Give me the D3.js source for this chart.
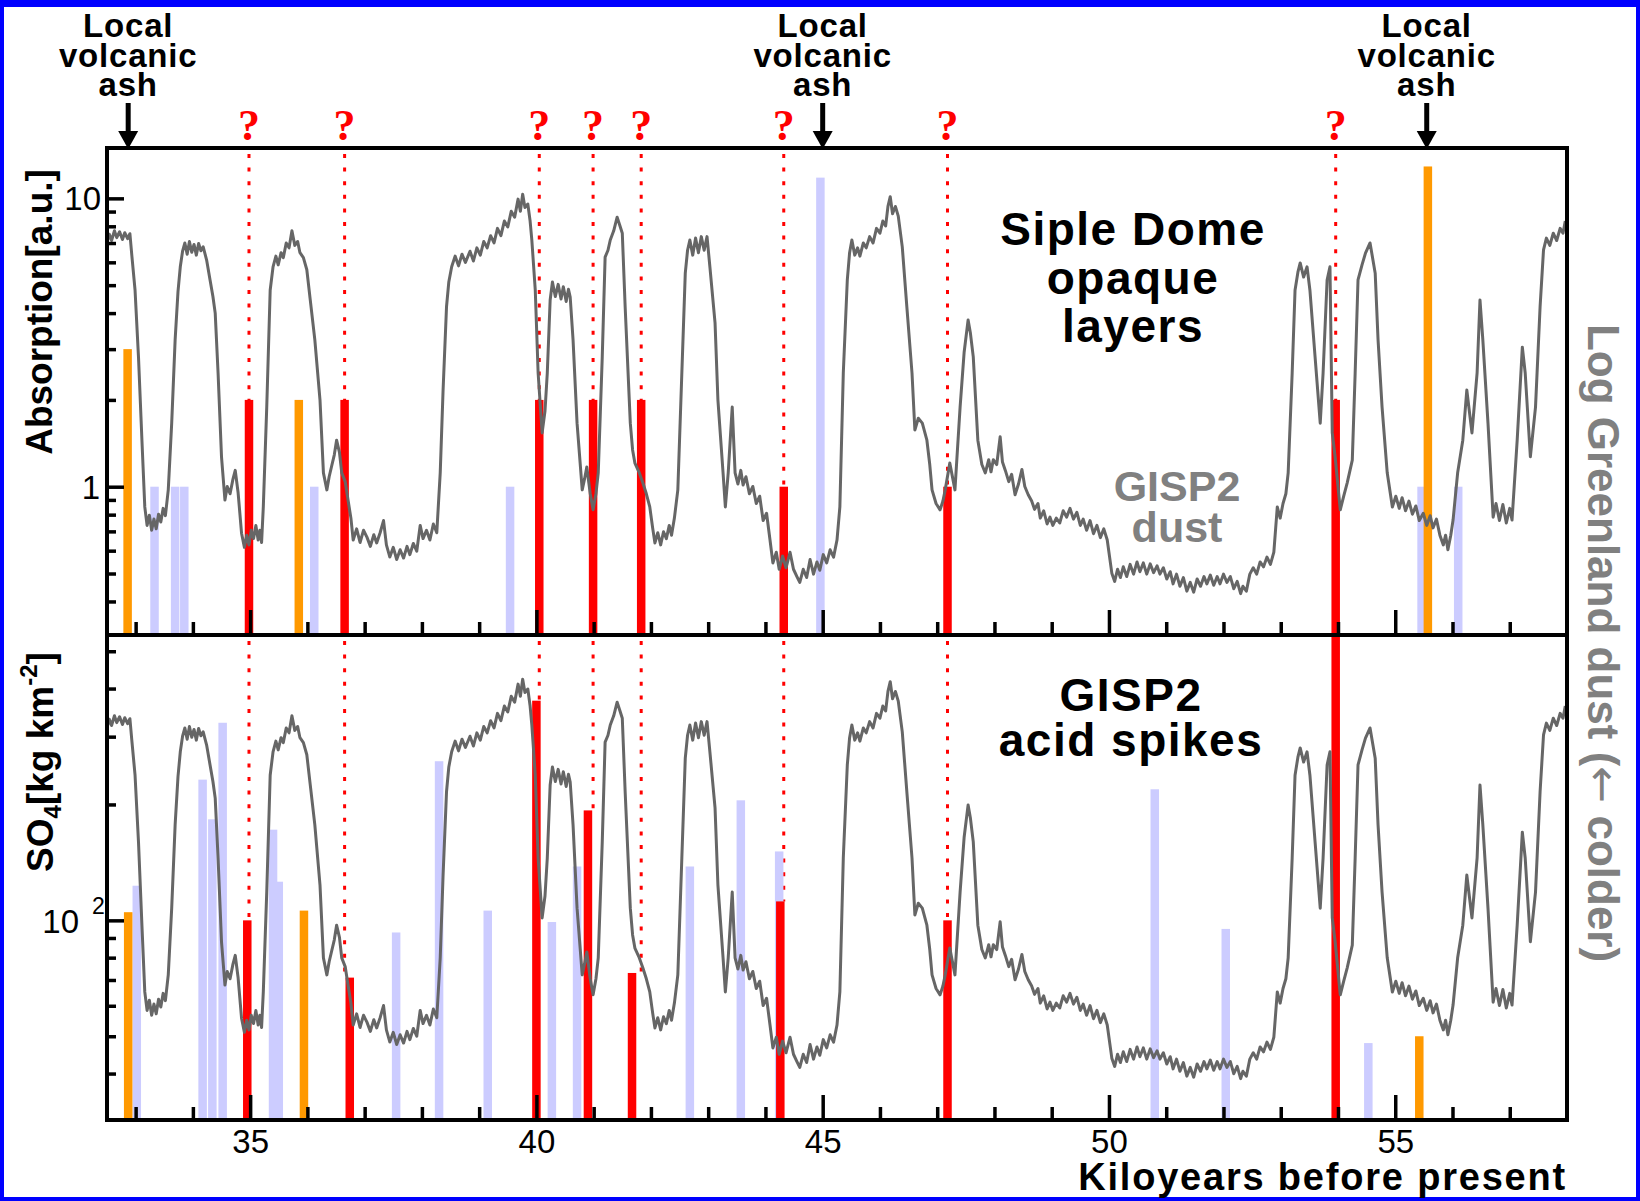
<!DOCTYPE html>
<html>
<head>
<meta charset="utf-8">
<script src="https://cdn.jsdelivr.net/npm/d3@7"></script>
<style>
  body { margin: 0; background: #fff; }
  svg { display: block; }
  text { font-family: "Liberation Sans", Arial, sans-serif; }
</style>
</head>
<body>
<script>
// GISP2 dust record (kyr BP, relative log dust index 0-100)
var dust = [[32.50,80.5],[32.54,82.3],[32.58,81.0],[32.63,83.0],[32.67,81.6],[32.72,82.8],[32.77,81.2],[32.81,82.6],[32.86,81.4],[32.90,82.4],[32.93,78.4],[32.99,70.8],[33.05,57.1],[33.11,40.0],[33.16,26.3],[33.20,22.5],[33.24,24.6],[33.28,21.5],[33.32,23.8],[33.36,21.8],[33.40,24.8],[33.44,23.2],[33.48,26.0],[33.52,24.5],[33.57,29.8],[33.63,43.5],[33.69,60.6],[33.74,70.5],[33.78,75.6],[33.82,78.8],[33.86,80.5],[33.90,78.2],[33.94,80.8],[33.98,78.6],[34.02,80.2],[34.06,78.0],[34.10,80.4],[34.14,78.9],[34.18,79.7],[34.24,77.0],[34.30,72.9],[34.35,69.5],[34.39,66.1],[34.44,53.8],[34.50,36.6],[34.56,27.7],[34.60,30.5],[34.65,29.0],[34.70,32.0],[34.74,33.8],[34.79,29.2],[34.85,20.9],[34.90,18.0],[34.94,20.5],[34.98,18.5],[35.02,21.5],[35.06,19.8],[35.10,22.5],[35.14,19.5],[35.17,21.5],[35.20,19.0],[35.23,26.3],[35.29,46.8],[35.35,70.8],[35.40,75.6],[35.45,77.8],[35.49,76.0],[35.54,78.5],[35.58,77.5],[35.63,80.5],[35.68,79.5],[35.73,83.0],[35.78,80.0],[35.83,80.8],[35.87,78.5],[35.93,77.5],[35.99,75.0],[36.05,68.8],[36.13,60.6],[36.22,48.3],[36.28,33.3],[36.34,29.8],[36.38,32.5],[36.42,34.5],[36.47,37.0],[36.51,40.0],[36.56,37.5],[36.60,33.3],[36.66,31.5],[36.71,27.7],[36.76,24.0],[36.80,19.5],[36.86,21.8],[36.92,19.0],[36.98,21.5],[37.04,20.1],[37.10,18.2],[37.16,20.6],[37.21,18.9],[37.27,21.0],[37.33,23.5],[37.38,18.5],[37.44,16.0],[37.50,18.0],[37.56,15.5],[37.62,17.5],[37.68,15.8],[37.74,18.2],[37.79,16.5],[37.85,18.8],[37.91,17.2],[37.97,22.5],[38.02,19.8],[38.08,21.5],[38.14,19.5],[38.20,22.8],[38.26,21.0],[38.32,33.3],[38.37,50.3],[38.43,67.4],[38.47,72.5],[38.52,75.6],[38.58,77.8],[38.64,75.8],[38.70,78.2],[38.76,76.5],[38.84,78.8],[38.90,76.8],[38.96,79.5],[39.02,78.0],[39.08,80.8],[39.14,79.5],[39.20,82.0],[39.26,80.5],[39.32,83.5],[39.38,82.0],[39.44,85.0],[39.50,83.8],[39.56,87.0],[39.62,85.8],[39.68,89.5],[39.72,87.0],[39.76,90.5],[39.80,87.8],[39.85,88.5],[39.89,85.0],[39.92,81.1],[39.98,70.8],[40.03,53.8],[40.10,41.5],[40.15,46.0],[40.19,53.8],[40.24,68.8],[40.28,72.5],[40.33,69.5],[40.38,72.0],[40.43,69.0],[40.47,71.5],[40.52,68.5],[40.56,71.0],[40.59,69.4],[40.64,60.6],[40.71,43.5],[40.80,29.8],[40.84,32.0],[40.88,34.5],[40.94,29.0],[40.99,25.7],[41.04,29.0],[41.08,33.3],[41.15,57.1],[41.20,77.6],[41.25,79.0],[41.29,81.1],[41.35,83.0],[41.41,85.8],[41.46,84.0],[41.50,82.5],[41.55,67.4],[41.64,43.5],[41.68,38.0],[41.72,35.3],[41.79,33.5],[41.86,31.2],[41.92,29.0],[41.98,26.3],[42.03,22.0],[42.07,18.9],[42.12,21.0],[42.17,18.5],[42.22,21.2],[42.27,19.8],[42.32,22.5],[42.36,20.5],[42.41,24.0],[42.47,29.8],[42.54,53.8],[42.60,74.3],[42.64,79.0],[42.68,81.1],[42.73,78.0],[42.78,81.5],[42.83,78.5],[42.88,81.8],[42.93,79.0],[42.98,81.8],[43.03,75.6],[43.12,64.1],[43.17,48.3],[43.26,33.3],[43.30,26.3],[43.35,33.3],[43.42,46.8],[43.47,33.3],[43.52,31.0],[43.57,33.8],[43.61,30.8],[43.66,32.5],[43.72,29.0],[43.78,30.5],[43.84,27.0],[43.90,28.5],[43.96,23.5],[44.02,25.0],[44.08,19.5],[44.13,14.8],[44.19,17.0],[44.24,13.5],[44.30,16.2],[44.36,13.8],[44.43,17.0],[44.49,13.5],[44.55,12.0],[44.60,10.8],[44.66,13.5],[44.72,11.8],[44.78,15.5],[44.84,12.5],[44.90,15.0],[44.95,13.3],[45.01,16.5],[45.07,14.8],[45.13,17.5],[45.19,16.0],[45.25,19.5],[45.30,26.3],[45.36,53.8],[45.43,72.9],[45.47,78.5],[45.51,81.1],[45.56,78.0],[45.61,79.5],[45.65,77.8],[45.71,80.5],[45.76,79.5],[45.82,81.8],[45.88,80.5],[45.94,83.5],[46.00,82.5],[46.05,85.0],[46.10,84.0],[46.14,88.0],[46.18,90.0],[46.22,86.5],[46.27,88.0],[46.32,86.0],[46.39,79.7],[46.47,67.4],[46.56,53.8],[46.61,42.1],[46.67,44.5],[46.74,43.5],[46.82,40.0],[46.87,35.0],[46.91,29.8],[46.98,27.0],[47.05,25.7],[47.10,27.5],[47.14,29.8],[47.22,35.3],[47.31,29.8],[47.40,46.8],[47.47,58.0],[47.54,64.7],[47.58,62.0],[47.63,57.1],[47.71,40.0],[47.78,35.0],[47.84,33.3],[47.90,36.0],[47.94,33.5],[47.98,36.0],[48.04,35.0],[48.10,40.7],[48.14,35.5],[48.19,33.8],[48.25,31.5],[48.30,33.0],[48.36,28.8],[48.42,31.0],[48.48,34.0],[48.53,30.5],[48.59,28.8],[48.65,27.5],[48.70,25.8],[48.76,27.0],[48.80,24.0],[48.86,25.5],[48.92,22.8],[48.97,24.2],[49.02,22.5],[49.08,24.0],[49.14,23.0],[49.20,25.5],[49.26,24.2],[49.32,26.0],[49.38,23.8],[49.44,25.2],[49.50,22.5],[49.55,23.8],[49.61,21.5],[49.67,23.5],[49.73,20.8],[49.79,22.5],[49.85,20.0],[49.91,21.8],[49.97,19.5],[50.05,12.7],[50.10,11.0],[50.15,13.5],[50.20,11.8],[50.25,14.0],[50.31,12.0],[50.37,14.5],[50.43,12.5],[50.49,15.0],[50.54,13.0],[50.60,14.8],[50.66,12.5],[50.72,14.6],[50.78,12.8],[50.84,14.2],[50.89,12.5],[50.95,13.8],[51.01,11.5],[51.07,13.0],[51.12,10.5],[51.18,12.5],[51.24,10.0],[51.30,11.8],[51.36,9.0],[51.42,10.8],[51.48,8.8],[51.54,11.5],[51.60,10.0],[51.66,12.0],[51.71,10.5],[51.77,12.3],[51.83,10.2],[51.89,12.0],[51.94,10.5],[52.00,12.5],[52.06,10.8],[52.12,12.0],[52.18,9.5],[52.24,11.0],[52.30,8.5],[52.34,10.0],[52.40,9.0],[52.46,12.5],[52.52,13.8],[52.58,12.5],[52.64,15.0],[52.70,14.0],[52.76,16.0],[52.82,14.5],[52.88,17.0],[52.94,26.3],[52.99,24.0],[53.04,27.0],[53.09,29.0],[53.13,33.3],[53.20,53.8],[53.25,70.8],[53.30,74.5],[53.34,76.4],[53.40,73.5],[53.46,75.6],[53.51,70.8],[53.60,57.1],[53.69,43.5],[53.74,53.8],[53.81,72.9],[53.86,75.6],[53.90,41.5],[53.95,36.6],[54.04,25.7],[54.10,28.5],[54.16,31.2],[54.25,35.9],[54.30,53.8],[54.35,72.9],[54.42,76.0],[54.48,78.4],[54.56,80.5],[54.65,74.3],[54.70,60.6],[54.77,46.8],[54.86,33.3],[54.95,26.3],[55.01,28.5],[55.07,26.0],[55.12,28.2],[55.18,25.5],[55.24,27.5],[55.30,24.8],[55.36,26.5],[55.42,23.5],[55.49,25.0],[55.55,22.5],[55.61,24.5],[55.66,22.0],[55.72,23.8],[55.78,20.5],[55.84,18.5],[55.88,20.5],[55.92,17.5],[55.97,20.5],[56.01,23.6],[56.09,33.3],[56.18,40.0],[56.25,50.3],[56.34,41.5],[56.43,53.8],[56.48,68.8],[56.53,60.6],[56.62,43.5],[56.71,24.2],[56.76,27.0],[56.82,23.5],[56.88,26.8],[56.94,23.0],[57.00,26.0],[57.04,23.6],[57.13,40.0],[57.22,59.1],[57.27,53.8],[57.36,36.6],[57.45,46.8],[57.53,67.4],[57.59,79.1],[57.64,81.5],[57.70,80.0],[57.76,82.5],[57.82,81.0],[57.88,83.5],[57.93,82.5],[57.97,85.0]];

// Siple Dome opaque layers, absorption [a.u.]
var opaqueAsh   = [[32.86,3.0],[35.85,2.0],[55.57,12.9]];
var opaqueMatch = [[34.98,2],[36.65,2],[40.05,2],[40.99,2],[41.83,2],[44.32,1],[47.18,1],[53.96,2]];
var opaqueOther = [[33.33,1],[33.69,1],[33.85,1],[36.12,1],[39.54,1],[44.96,11.8],[55.46,1],[56.10,1]];

// GISP2 acid spikes, SO4 [kg km-2]
var acidAsh   = [[32.87,105],[35.94,106],[55.42,50]];
var acidMatch = [[34.95,100],[36.74,71],[40.00,372],[40.90,193],[41.67,73],[44.26,112],[47.18,100],[53.96,560]];
var acidOther = [[33.02,123],[34.17,232],[34.34,183],[34.52,326],[35.40,172],[35.50,126],[37.55,93],[38.30,259],[39.15,106],[40.27,99],[40.71,138],[42.68,138],[43.57,205],[44.24,151],[50.80,219],[52.04,95],[54.53,48]];

// matched events (question marks) and local ash arrows
var eventKyr = [34.98, 36.65, 40.05, 40.99, 41.83, 44.32, 47.18, 53.96];
var ashKyr = [32.87, 45.0, 55.55];

var xMajor = [35, 40, 45, 50, 55];
var xMinor = [33,34,36,37,38,39,41,42,43,44,46,47,48,49,51,52,53,54,56,57];

var W = 1640, H = 1201;
var xL = 107, xR = 1567, yT = 148, yM = 635, yB = 1120;
var barW = 8.5;

var svg = d3.select('body').append('svg').attr('width', W).attr('height', H);

// blue page border
svg.append('rect').attr('width', W).attr('height', H).attr('fill', '#0000ff');
svg.append('rect').attr('x', 4).attr('y', 7).attr('width', W - 8).attr('height', H - 11).attr('fill', '#fff');

var x = d3.scaleLinear().domain([32.5, 58]).range([xL, xR]);
var yAbs = d3.scaleLog().domain([0.306, 14.95]).range([yM, yT]).clamp(true);
var ySO4 = d3.scaleLog().domain([30.3, 551]).range([yB, yM]).clamp(true);
var yDustTop = d3.scaleLinear().domain([0, 100]).range([yM, yT]);
var yDustBot = d3.scaleLinear().domain([0, 100]).range([yB, yM - 2]);

function nearest(list, k) {
  var best = null;
  list.forEach(function (d) {
    if (Math.abs(d[0] - k) < 0.3 && (!best || Math.abs(d[0] - k) < Math.abs(best[0] - k))) best = d;
  });
  return best;
}

// dotted event lines, ending on the matched red bar
var dots = svg.append('g').attr('stroke', '#ff0000').attr('stroke-width', 3).attr('stroke-dasharray', '4 9.6');
eventKyr.forEach(function (k) {
  var a = nearest(opaqueMatch, k), b = nearest(acidMatch, k);
  dots.append('line').attr('x1', x(k)).attr('x2', x(k)).attr('y1', yT + 6).attr('y2', yAbs(a[1]));
  if (ySO4(b[1]) > yM + 6)
    dots.append('line').attr('x1', x(k)).attr('x2', x(k)).attr('y1', yM + 6).attr('y2', ySO4(b[1]));
});

function bars(data, y, base, color) {
  svg.append('g').selectAll('rect').data(data).enter().append('rect')
    .attr('x', function (d) { return x(d[0]) - barW / 2; })
    .attr('width', barW)
    .attr('y', function (d) { return y(d[1]); })
    .attr('height', function (d) { return base - y(d[1]); })
    .attr('fill', color);
}
bars(opaqueOther, yAbs, yM, '#ccccff');
bars(opaqueAsh, yAbs, yM, '#ff9900');
bars(opaqueMatch, yAbs, yM, '#ff0000');
bars(acidOther, ySO4, yB, '#ccccff');
bars(acidAsh, ySO4, yB, '#ff9900');
bars(acidMatch, ySO4, yB, '#ff0000');

// dust curve in both panels
[yDustTop, yDustBot].forEach(function (yd) {
  svg.append('path').datum(dust)
    .attr('d', d3.line().x(function (d) { return x(d[0]); }).y(function (d) { return yd(d[1]); }))
    .attr('fill', 'none').attr('stroke', '#666').attr('stroke-width', 3).attr('stroke-linejoin', 'round');
});

// frames
svg.append('rect').attr('x', xL).attr('y', yT).attr('width', xR - xL).attr('height', yB - yT)
  .attr('fill', 'none').attr('stroke', '#000').attr('stroke-width', 4);
svg.append('line').attr('x1', xL).attr('x2', xR).attr('y1', yM).attr('y2', yM)
  .attr('stroke', '#000').attr('stroke-width', 4);

function styleTicks(g) {
  g.select('.domain').remove();
  g.selectAll('line').attr('stroke', '#000').attr('stroke-width', 3.5);
}

// x ticks (inside, pointing up)
[yM, yB].forEach(function (yy) {
  svg.append('g').attr('transform', 'translate(0,' + yy + ')')
    .call(d3.axisTop(x).tickValues(xMinor).tickSize(13).tickFormat('')).call(styleTicks);
  svg.append('g').attr('transform', 'translate(0,' + yy + ')')
    .call(d3.axisTop(x).tickValues(xMajor).tickSize(25).tickFormat('')).call(styleTicks);
});

// y ticks (inside, pointing right)
function yTicks(scale) {
  var vals = scale.ticks();
  var major = vals.filter(function (v) { return Math.abs(Math.log10(v) - Math.round(Math.log10(v))) < 1e-6; });
  var minor = vals.filter(function (v) { return major.indexOf(v) < 0; });
  svg.append('g').attr('transform', 'translate(' + xL + ',0)')
    .call(d3.axisRight(scale).tickValues(minor).tickSize(9).tickFormat('')).call(styleTicks);
  svg.append('g').attr('transform', 'translate(' + xL + ',0)')
    .call(d3.axisRight(scale).tickValues(major).tickSize(17).tickFormat('')).call(styleTicks);
}
yTicks(yAbs);
yTicks(ySO4);

// x tick labels
svg.append('g').attr('transform', 'translate(0,' + yB + ')')
  .call(d3.axisBottom(x).tickValues(xMajor).tickSize(0).tickPadding(10))
  .call(function (g) {
    g.select('.domain').remove();
    g.selectAll('text').attr('font-size', 33).attr('fill', '#000')
      .style('font-family', '"Liberation Sans", Arial, sans-serif');
  });

// y tick labels
svg.append('text').attr('x', 101).attr('y', yAbs(10) + 12).attr('text-anchor', 'end')
  .attr('font-size', 33).text('10');
svg.append('text').attr('x', 100).attr('y', yAbs(1) + 12).attr('text-anchor', 'end')
  .attr('font-size', 33).text('1');
svg.append('text').attr('x', 79).attr('y', ySO4(100) + 13).attr('text-anchor', 'end')
  .attr('font-size', 33).text('10');
svg.append('text').attr('x', 92).attr('y', ySO4(100) - 6).attr('font-size', 23).text('2');

// axis titles
svg.append('text').attr('transform', 'translate(52,312) rotate(-90)').attr('text-anchor', 'middle')
  .attr('font-size', 37).attr('font-weight', 'bold').text('Absorption[a.u.]');

var so4 = svg.append('text').attr('transform', 'translate(53,762) rotate(-90)').attr('text-anchor', 'middle')
  .attr('font-size', 37).attr('font-weight', 'bold');
so4.append('tspan').text('SO');
so4.append('tspan').attr('font-size', 24).attr('dy', 8).text('4');
so4.append('tspan').attr('dy', -8).text('[kg km');
so4.append('tspan').attr('font-size', 24).attr('dy', -16).text('-2');
so4.append('tspan').attr('dy', 16).text(']');

var rt = svg.append('text').attr('transform', 'translate(1588,643) rotate(90)').attr('text-anchor', 'middle')
  .attr('font-size', 44).attr('font-weight', 'bold').attr('fill', '#808080');
rt.append('tspan').text('Log Greenland dust (');
rt.append('tspan').style('font-family', '"DejaVu Sans", sans-serif').attr('font-weight', 'normal').text('\u2190');
rt.append('tspan').text(' colder)');

svg.append('text').attr('x', xR).attr('y', 1190).attr('text-anchor', 'end')
  .attr('font-size', 38).attr('font-weight', 'bold').attr('letter-spacing', 1.8)
  .text('Kiloyears before present');

// panel titles
function block(lines, cx, ys, size, color, ls) {
  lines.forEach(function (t, i) {
    svg.append('text').attr('x', cx).attr('y', ys[i]).attr('text-anchor', 'middle')
      .attr('font-size', size).attr('font-weight', 'bold').attr('fill', color)
      .attr('letter-spacing', ls).text(t);
  });
}
block(['Siple Dome', 'opaque', 'layers'], 1133, [245, 294, 342], 46, '#000', 1.5);
block(['GISP2', 'dust'], 1177, [501, 542], 43, '#808080', 0);
block(['GISP2', 'acid spikes'], 1131, [711, 756], 46, '#000', 1.5);

// local volcanic ash labels + arrows
ashKyr.forEach(function (k) {
  var cx = x(k);
  block(['Local', 'volcanic', 'ash'], cx, [37, 66.5, 96], 33, '#000', 0.8);
  svg.append('line').attr('x1', cx).attr('x2', cx).attr('y1', 103).attr('y2', 134)
    .attr('stroke', '#000').attr('stroke-width', 5);
  svg.append('path').attr('d', 'M' + (cx - 10) + ',131L' + (cx + 10) + ',131L' + cx + ',149Z').attr('fill', '#000');
});

// question marks
svg.append('g').selectAll('text').data(eventKyr).enter().append('text')
  .attr('x', function (k) { return x(k); }).attr('y', 140).attr('text-anchor', 'middle')
  .style('font-family', '"Liberation Serif", "Times New Roman", serif')
  .attr('font-size', 44).attr('font-weight', 'bold').attr('fill', '#ff0000').text('?');
</script>
</body>
</html>
